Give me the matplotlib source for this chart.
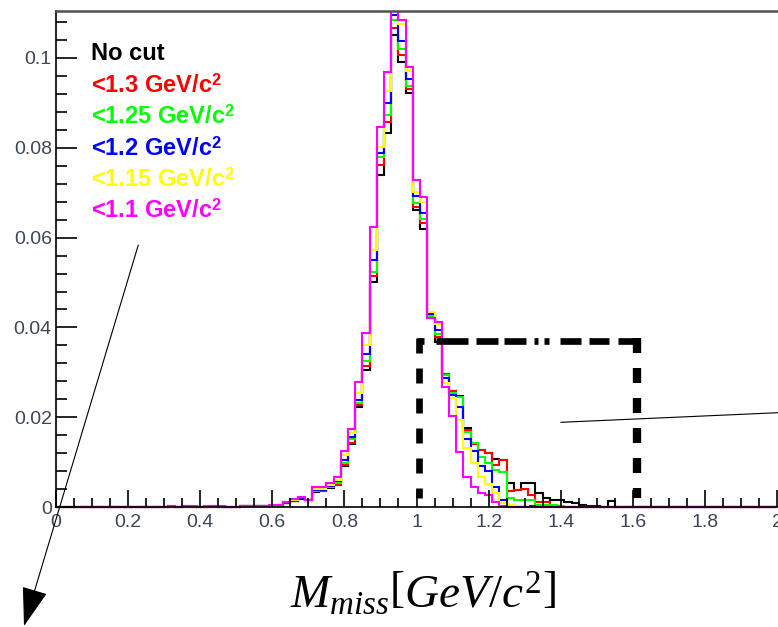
import numpy as np
import matplotlib
matplotlib.use("Agg")
import matplotlib.pyplot as plt
from matplotlib.patches import Rectangle, FancyArrowPatch
from matplotlib.lines import Line2D
from matplotlib.ticker import MultipleLocator, FuncFormatter

plt.rcParams["mathtext.fontset"] = "custom"
plt.rcParams["mathtext.it"] = "Liberation Serif:italic"
plt.rcParams["mathtext.rm"] = "Liberation Serif"
plt.rcParams["mathtext.bf"] = "Liberation Sans:bold"
plt.rcParams["lines.scale_dashes"] = False

# Missing-mass histograms: bin width 0.02 GeV/c^2, first bin centred at 0.30
bin_width = 0.02
first_centre = 0.30

no_cut = [
    0, 0, 0, 0, 0, 0, 0, 0, 0, 0,
    0, 0.0002, 0.0002, 0.0002, 0.0002, 0.0003, 0.0004, 0.0009, 0.0013, 0.0019,
    0.0013, 0.0035, 0.0036, 0.0044, 0.0049, 0.0092, 0.0141, 0.0224, 0.0305, 0.0502,
    0.0739, 0.0832, 0.1051, 0.0991, 0.0921, 0.0662, 0.0618, 0.0421, 0.0367, 0.0297,
    0.0259, 0.0247, 0.0176, 0.0143, 0.0128, 0.0120, 0.0108, 0.0105, 0.0053, 0.0038,
    0.0055, 0.0055, 0.0032, 0.0020, 0.0016, 0.0016, 0.0012, 0.0010, 0.0005, 0.0003,
    0.0003, 0, 0.0014, 0, 0, 0, 0,
]
cut_1p30 = [
    0, 0, 0, 0, 0, 0, 0, 0, 0, 0,
    0, 0.0002, 0.0002, 0.0002, 0.0002, 0.0003, 0.0004, 0.0009, 0.0014, 0.0020,
    0.0013, 0.0036, 0.0037, 0.0045, 0.0050, 0.0094, 0.0144, 0.0228, 0.0314, 0.0515,
    0.0762, 0.0858, 0.1066, 0.1006, 0.0930, 0.0669, 0.0632, 0.0424, 0.0378, 0.0296,
    0.0258, 0.0246, 0.0172, 0.0140, 0.0127, 0.0121, 0.0094, 0.0106, 0.0036, 0.0038,
    0.0040, 0.0027, 0.0012, 0.0012, 0.0005, 0, 0, 0, 0, 0,
    0, 0, 0, 0, 0, 0, 0,
]
cut_1p25 = [
    0, 0, 0, 0, 0, 0, 0, 0, 0, 0,
    0, 0.0002, 0.0002, 0.0002, 0.0002, 0.0003, 0.0004, 0.0010, 0.0014, 0.0020,
    0.0014, 0.0037, 0.0038, 0.0046, 0.0055, 0.0099, 0.0151, 0.0233, 0.0326, 0.0524,
    0.0780, 0.0873, 0.1083, 0.1019, 0.0937, 0.0676, 0.0641, 0.0426, 0.0385, 0.0294,
    0.0255, 0.0245, 0.0168, 0.0142, 0.0112, 0.0098, 0.0082, 0.0078, 0.0020, 0.0016,
    0.0016, 0.0016, 0.0006, 0.0005, 0.0005, 0.0004, 0, 0, 0, 0,
    0, 0, 0, 0, 0, 0, 0,
]
cut_1p20 = [
    0, 0.0003, 0, 0.0003, 0, 0, 0, 0.0003, 0, 0,
    0, 0.0002, 0.0002, 0.0002, 0.0002, 0.0004, 0.0005, 0.0010, 0.0015, 0.0021,
    0.0014, 0.0038, 0.0039, 0.0048, 0.0058, 0.0105, 0.0157, 0.0239, 0.0342, 0.0549,
    0.0788, 0.0900, 0.1094, 0.1038, 0.0953, 0.0693, 0.0654, 0.0430, 0.0394, 0.0287,
    0.0250, 0.0224, 0.0152, 0.0125, 0.0092, 0.0080, 0.0045, 0.0017, 0.0005, 0.0004,
    0.0004, 0.0003, 0, 0, 0, 0, 0, 0, 0, 0,
    0, 0, 0, 0, 0, 0, 0,
]
cut_1p15 = [
    0, 0, 0, 0, 0, 0, 0, 0, 0, 0,
    0.0004, 0.0002, 0.0002, 0.0002, 0.0002, 0.0004, 0.0005, 0.0011, 0.0017, 0.0022,
    0.0015, 0.0040, 0.0040, 0.0050, 0.0061, 0.0116, 0.0165, 0.0254, 0.0362, 0.0572,
    0.0802, 0.0925, 0.1130, 0.1075, 0.0971, 0.0702, 0.0680, 0.0435, 0.0408, 0.0276,
    0.0244, 0.0194, 0.0131, 0.0098, 0.0068, 0.0052, 0.0032, 0.0009, 0.0005, 0.0003,
    0.0003, 0, 0, 0, 0, 0, 0, 0, 0, 0,
    0, 0, 0, 0, 0, 0, 0,
]
cut_1p10 = [
    0, 0.0004, 0, 0.0004, 0.0004, 0, 0.0004, 0.0004, 0.0004, 0,
    0, 0.0003, 0.0003, 0.0003, 0.0003, 0.0005, 0.0006, 0.0012, 0.0018, 0.0024,
    0.0016, 0.0045, 0.0046, 0.0055, 0.0067, 0.0125, 0.0174, 0.0279, 0.0388, 0.0624,
    0.0847, 0.0968, 0.1180, 0.1083, 0.0980, 0.0728, 0.0691, 0.0420, 0.0413, 0.0268,
    0.0202, 0.0123, 0.0068, 0.0045, 0.0031, 0.0028, 0.0012, 0.0003, 0, 0,
    0, 0, 0, 0, 0, 0, 0, 0, 0, 0,
    0, 0, 0, 0, 0, 0, 0,
]

series = [no_cut, cut_1p30, cut_1p25, cut_1p20, cut_1p15, cut_1p10]
series_labels = [
    "No cut",
    r"<1.3 GeV/c$^{\mathbf{2}}$",
    r"<1.25 GeV/c$^{\mathbf{2}}$",
    r"<1.2 GeV/c$^{\mathbf{2}}$",
    r"<1.15 GeV/c$^{\mathbf{2}}$",
    r"<1.1 GeV/c$^{\mathbf{2}}$",
]
series_colors = ["#000000", "#ff0000", "#00ff00", "#0000ff", "#ffff00", "#ff00ff"]

x_min, x_max = 0.0, 2.0
y_min, y_max = 0.0, 0.1104

# ---------------------------------------------------------------------------
W, H = 778, 627
fig = plt.figure(figsize=(W / 100, H / 100), dpi=100)
fig.patch.set_facecolor("white")


def fx(px):
    return px / W


def fy(py):
    return 1 - py / H


ax_left, ax_right, ax_top, ax_bottom = 56, 777, 11, 507.3
ax = fig.add_axes([fx(ax_left), fy(ax_bottom), (ax_right - ax_left) / W,
                   (ax_bottom - ax_top) / H])
ax.set_xlim(x_min, x_max)
ax.set_ylim(y_min, y_max)

# full binning over the axis range so the zero level is drawn everywhere
n_bins = int(round((x_max - x_min) / bin_width)) + 1
edges = np.arange(n_bins + 1) * bin_width - bin_width / 2
offset = int(round(first_centre / bin_width))
clip_rect = Rectangle((0, -0.01), 1, 1.01, transform=ax.transAxes)

for vals, col in zip(series, series_colors):
    full = np.zeros(n_bins)
    full[offset:offset + len(vals)] = vals
    st = ax.stairs(full, edges, color=col, linewidth=1.5, baseline=0)
    st.set_clip_path(clip_rect)

# frame and ticks in the style of the original canvas
ax.spines["right"].set_visible(False)
ax.spines["left"].set_linewidth(1.2)
ax.spines["bottom"].set_linewidth(1.2)
ax.spines["top"].set_linewidth(1.8)
ax.spines["top"].set_color("#505050")

tick_color = "#3c4654"
fmt = FuncFormatter(lambda v, p: f"{round(v, 4):g}")
ax.xaxis.set_major_locator(MultipleLocator(0.2))
ax.xaxis.set_minor_locator(MultipleLocator(0.05))
ax.yaxis.set_major_locator(MultipleLocator(0.02))
ax.yaxis.set_minor_locator(MultipleLocator(0.004))
ax.xaxis.set_major_formatter(fmt)
ax.yaxis.set_major_formatter(fmt)
ax.tick_params(axis="both", which="both", direction="in", width=1.2,
               colors="black", labelcolor=tick_color, labelsize=14)
ax.tick_params(axis="y", which="major", length=15, pad=3)
ax.tick_params(axis="y", which="minor", length=8)
ax.tick_params(axis="x", which="major", length=12, pad=5)
ax.tick_params(axis="x", which="minor", length=6.5)
ax.tick_params(top=False, right=False)
for lab in ax.get_xticklabels() + ax.get_yticklabels():
    lab.set_fontfamily("Liberation Sans")

# legend entries as coloured text
legend_baselines = [60.5, 93, 124, 156, 187, 218]
for txt, col, yb in zip(series_labels, series_colors, legend_baselines):
    fig.text(fx(91), fy(yb), txt, color=col, fontsize=17, fontweight="bold",
             family="Liberation Sans", ha="left", va="baseline")

# dashed selection box around the tail region
box_x = [1.008, 1.613]
box_y = [0.0021, 0.0377]
to_pt = 0.72
ax.add_line(Line2D([box_x[0], box_x[0]], [box_y[1], box_y[0]], color="black",
                   lw=4.8, solid_capstyle="butt", dash_capstyle="butt",
                   dashes=(15 * to_pt, 15 * to_pt)))
ax.add_line(Line2D([box_x[1], box_x[1]], [box_y[1], box_y[0]], color="black",
                   lw=6.0, solid_capstyle="butt", dash_capstyle="butt",
                   dashes=(15 * to_pt, 15 * to_pt)))
top_pattern_px = [7, 12, 32, 8, 22, 6, 22, 8, 4, 6, 5, 11, 21, 8, 20, 9, 24]
ax.add_line(Line2D([box_x[0] - 0.008, box_x[1] + 0.008], [box_y[1] - 0.0008] * 2,
                   color="black", lw=4.8, dash_capstyle="butt",
                   dashes=tuple(p * to_pt for p in top_pattern_px)))

# thin pointer lines
fig.add_artist(Line2D([fx(561), fx(778)], [fy(422.3), fy(412.7)],
                      color="black", lw=0.8))
fig.add_artist(FancyArrowPatch((fx(138.3), fy(245)), (fx(24), fy(626)),
                               transform=fig.transFigure,
                               arrowstyle="-|>,head_length=1.0,head_width=0.33",
                               mutation_scale=25, color="black", lw=0.8,
                               shrinkA=0, shrinkB=0))

# axis title
fig.text(fx(423), fy(608), r"$M_{miss}\left[GeV/c^{2}\right]$", fontsize=34,
         ha="center", va="baseline", color="black")

fig.savefig("out.png", dpi=100, facecolor="white")
